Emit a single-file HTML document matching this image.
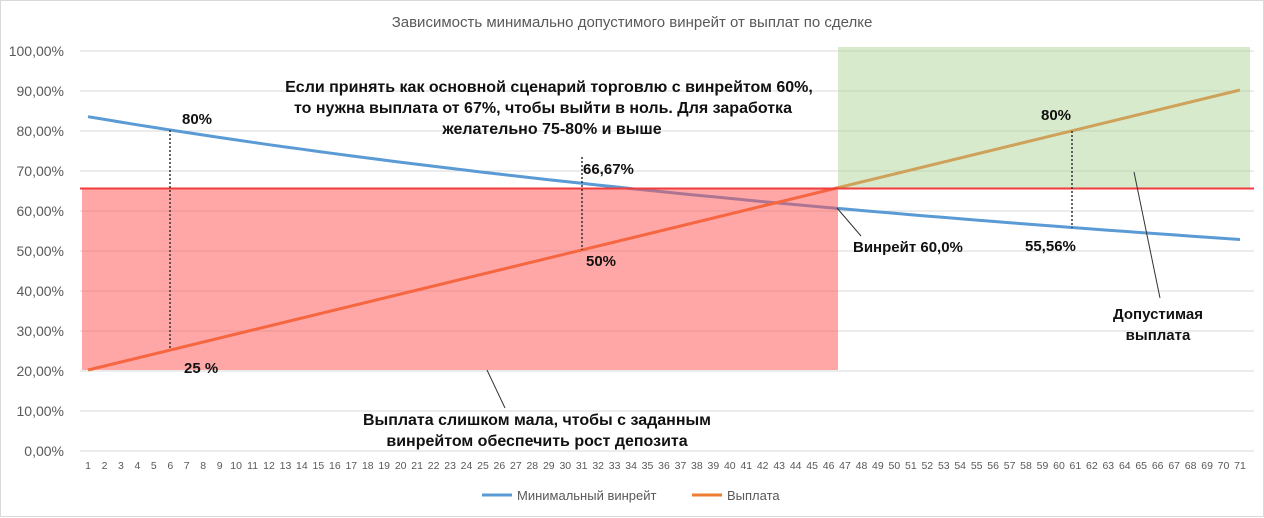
<!DOCTYPE html>
<html><head><meta charset="utf-8"><style>
html,body{margin:0;padding:0;background:#fff}
svg{display:block;font-family:"Liberation Sans","DejaVu Sans",sans-serif}
</style></head><body>
<svg width="1264" height="518" viewBox="0 0 1264 518" xmlns="http://www.w3.org/2000/svg">
<rect x="0.5" y="0.5" width="1263" height="516" fill="#fff" stroke="#d9d9d9"/>
<text x="632" y="27" text-anchor="middle" font-size="15" fill="#595959">Зависимость минимально допустимого винрейт от  выплат по сделке</text>
<g stroke="#d9d9d9" stroke-width="1">
<line x1="80" x2="1254" y1="51" y2="51"/><line x1="80" x2="1254" y1="91" y2="91"/>
<line x1="80" x2="1254" y1="131" y2="131"/><line x1="80" x2="1254" y1="171" y2="171"/>
<line x1="80" x2="1254" y1="211" y2="211"/><line x1="80" x2="1254" y1="251" y2="251"/>
<line x1="80" x2="1254" y1="291" y2="291"/><line x1="80" x2="1254" y1="331" y2="331"/>
<line x1="80" x2="1254" y1="371" y2="371"/><line x1="80" x2="1254" y1="411" y2="411"/>
<line x1="80" x2="1254" y1="451" y2="451"/>
</g>
<g font-size="14" fill="#595959" text-anchor="end">
<text x="64" y="56">100,00%</text><text x="64" y="96">90,00%</text><text x="64" y="136">80,00%</text>
<text x="64" y="176">70,00%</text><text x="64" y="216">60,00%</text><text x="64" y="256">50,00%</text>
<text x="64" y="296">40,00%</text><text x="64" y="336">30,00%</text><text x="64" y="376">20,00%</text>
<text x="64" y="416">10,00%</text><text x="64" y="456">0,00%</text>
</g>
<g id="xl" font-size="10.5" fill="#595959" text-anchor="middle"></g>
<polyline id="blue" fill="none" stroke="#5B9BD5" stroke-width="3"/>
<line x1="88" y1="370" x2="1240" y2="90" stroke="#ED7D31" stroke-width="3"/>
<rect x="82" y="188" width="756" height="182" fill="#FF5050" fill-opacity="0.5"/>
<rect x="838" y="47" width="412" height="141" fill="#A9D08E" fill-opacity="0.45"/>
<line x1="80" x2="1254" y1="188.5" y2="188.5" stroke="#F03C3C" stroke-width="2"/>
<g stroke="#333" stroke-width="1.5" stroke-dasharray="2,2">
<line x1="170" y1="130" x2="170" y2="350"/>
<line x1="582" y1="157" x2="582" y2="250"/>
<line x1="1072" y1="131" x2="1072" y2="228"/>
</g>
<g stroke="#333" stroke-width="1">
<line x1="837" y1="208" x2="861" y2="236"/>
<line x1="487" y1="370" x2="505" y2="408"/>
<line x1="1134" y1="172" x2="1160" y2="298"/>
</g>
<g font-size="15" font-weight="bold" fill="#111">
<text x="182" y="124">80%</text>
<text x="184" y="373">25 %</text>
<text x="583" y="174">66,67%</text>
<text x="586" y="266">50%</text>
<text x="853" y="252">Винрейт 60,0%</text>
<text x="1025" y="251">55,56%</text>
<text x="1041" y="120">80%</text>
<text x="1158" y="319" text-anchor="middle">Допустимая</text>
<text x="1158" y="340" text-anchor="middle">выплата</text>
</g>
<g font-size="16" font-weight="bold" fill="#111" text-anchor="middle">
<text x="549" y="92">Если принять как основной сценарий торговлю с винрейтом 60%,</text>
<text x="543" y="113">то нужна выплата от 67%, чтобы выйти в ноль. Для заработка</text>
<text x="552" y="134">желательно 75-80% и выше</text>
<text x="537" y="425">Выплата слишком мала, чтобы с заданным</text>
<text x="537" y="446">винрейтом обеспечить рост депозита</text>
</g>
<line x1="482" y1="495" x2="512" y2="495" stroke="#5B9BD5" stroke-width="3"/>
<text x="517" y="500" font-size="13" fill="#595959">Минимальный винрейт</text>
<line x1="692" y1="495" x2="722" y2="495" stroke="#ED7D31" stroke-width="3"/>
<text x="727" y="500" font-size="13" fill="#595959">Выплата</text>
</svg>
<script>
var pts=[],xl=document.getElementById('xl'),s='';
for(var i=1;i<=71;i++){var x=88+(i-1)*16.457;var p=0.2+(i-1)*0.01;var w=1/(1+p);
pts.push(x.toFixed(1)+','+(450-400*w).toFixed(1));
s+='<text x="'+x.toFixed(1)+'" y="469">'+i+'</text>';}
xl.innerHTML=s;
document.getElementById('blue').setAttribute('points',pts.join(' '));
</script>
</body></html>
